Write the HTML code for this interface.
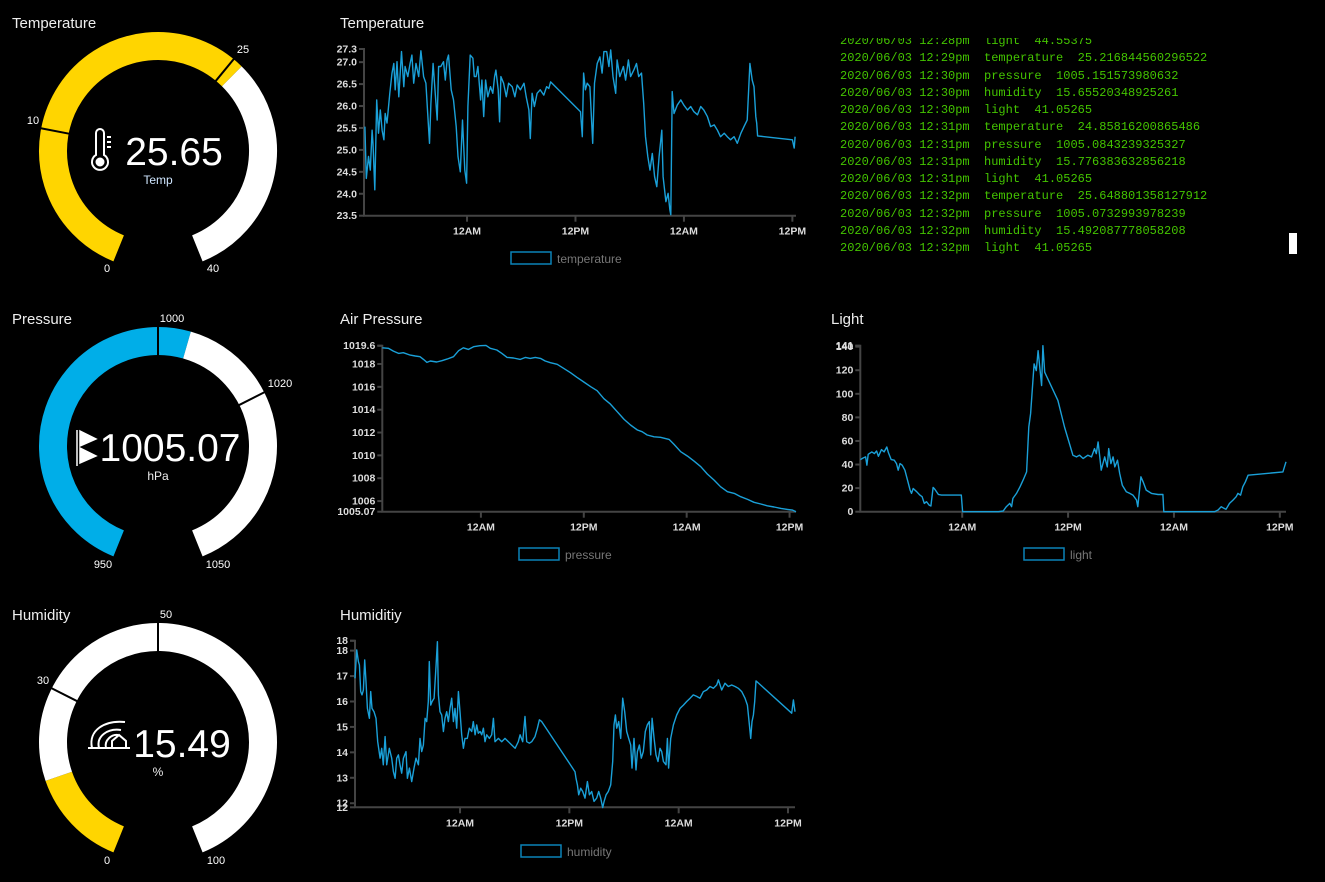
<!DOCTYPE html>
<html><head><meta charset="utf-8"><style>
html,body{margin:0;padding:0;background:#000;width:1325px;height:882px;overflow:hidden;font-family:"Liberation Sans",sans-serif;}
svg{position:absolute;left:0;top:0}
.t{fill:#eee;font-size:15px}
.ax{fill:#ddd;font-size:10.5px;font-weight:bold}
.gl{fill:#fff;font-size:11px}
#log{position:absolute;left:840px;top:38px;width:420px;height:222px;overflow:hidden;font-family:"Liberation Mono",monospace;font-size:12px;line-height:17.25px;color:#44c400;white-space:pre}
#log div{height:17.25px}
</style></head><body>
<div id="log"><div style="margin-top:-5px">2020/06/03 12:28pm  light  44.55375</div><div>2020/06/03 12:29pm  temperature  25.216844560296522</div><div>2020/06/03 12:30pm  pressure  1005.151573980632</div><div>2020/06/03 12:30pm  humidity  15.65520348925261</div><div>2020/06/03 12:30pm  light  41.05265</div><div>2020/06/03 12:31pm  temperature  24.85816200865486</div><div>2020/06/03 12:31pm  pressure  1005.0843239325327</div><div>2020/06/03 12:31pm  humidity  15.776383632856218</div><div>2020/06/03 12:31pm  light  41.05265</div><div>2020/06/03 12:32pm  temperature  25.648801358127912</div><div>2020/06/03 12:32pm  pressure  1005.0732993978239</div><div>2020/06/03 12:32pm  humidity  15.492087778058208</div><div>2020/06/03 12:32pm  light  41.05265</div></div>
<div style="position:absolute;left:1289px;top:233px;width:8px;height:21px;background:#fff"></div>
<svg id="s" width="1325" height="882" xmlns="http://www.w3.org/2000/svg">
<text class="t" x="12" y="28">Temperature</text>
<text class="t" x="12" y="324">Pressure</text>
<text class="t" x="12" y="620">Humidity</text>
<text class="t" x="340" y="28">Temperature</text>
<text class="t" x="340" y="324">Air Pressure</text>
<text class="t" x="831" y="324">Light</text>
<text class="t" x="340" y="620">Humiditiy</text>
<g fill="none" stroke="#fff" stroke-width="2">
<path d="M96 133 a4 4 0 0 1 8 0 v22 a8 8 0 1 1 -8 0 z"/><circle cx="100" cy="162" r="3.5" fill="#fff"/>
<line x1="107" y1="137" x2="111" y2="137"/><line x1="107" y1="142" x2="111" y2="142"/><line x1="107" y1="147" x2="111" y2="147"/></g>
<g fill="#fff" stroke="#fff" stroke-width="1.5">
<line x1="77" y1="430" x2="77" y2="466"/><path d="M80 431 L96 439 L80 446 Z"/><path d="M80 448 L96 456 L80 463 Z"/></g>
<g fill="none" stroke="#fff" stroke-width="2">
<path d="M88 748 h42"/><path d="M92 748 C88 730 105 720 125 722"/><path d="M99 748 C96 736 108 728 121 730"/><path d="M106 748 C104 740 112 734 118 735"/><path d="M112 748 v-7 l7 -6 l7 6 v7"/></g>
<text x="174" y="165" fill="#fff" font-size="39" text-anchor="middle">25.65</text>
<text x="158" y="184" fill="#cfe6ff" font-size="12" text-anchor="middle">Temp</text>
<text x="170" y="461" fill="#fff" font-size="39" text-anchor="middle">1005.07</text>
<text x="158" y="480" fill="#eee" font-size="12" text-anchor="middle">hPa</text>
<text x="182" y="757" fill="#fff" font-size="39" text-anchor="middle">15.49</text>
<text x="158" y="776" fill="#eee" font-size="12" text-anchor="middle">%</text>
</svg>
<script>
const tempT=[-11.3,-11.15,-10.9,-10.7,-10.5,-10.4,-10.2,-10.0,-9.8,-9.6,-9.4,-9.2,-9.05,-8.85,-8.55,-8.3,-8.1,-7.95,-7.75,-7.55,-7.25,-7.0,-6.85,-6.55,-6.3,-6.1,-5.9,-5.65,-5.35,-5.1,-4.8,-4.55,-4.35,-4.15,-4.0,-3.75,-3.6,-3.3,-3.15,-2.9,-2.6,-2.4,-2.2,-2.05,-1.75,-1.5,-1.2,-1.0,-0.75,-0.5,-0.25,-0.05,0.1,0.35,0.65,0.8,1.0,1.2,1.5,1.65,1.85,2.05,2.3,2.6,2.85,3.05,3.2,3.45,3.6,3.75,4.05,4.35,4.6,5.0,5.3,5.55,5.9,6.3,6.55,6.85,7.0,7.2,7.45,7.75,8.1,8.5,8.8,9.05,9.25,12.55,12.75,12.9,13.1,13.3,13.6,13.9,14.1,14.4,14.7,14.95,15.15,15.45,15.7,15.9,16.15,16.45,16.6,16.9,17.3,17.55,17.85,18.1,18.45,18.75,19.0,19.3,19.55,19.75,20.0,20.25,20.5,20.75,21.0,21.25,21.55,21.7,22.0,22.25,22.45,22.55,22.7,22.9,23.25,23.65,24.0,24.4,24.75,25.1,25.5,25.85,26.2,26.6,26.95,27.35,27.7,28.05,28.45,28.8,29.15,29.55,29.9,30.3,30.65,31.0,31.3,31.55,31.75,31.95,32.05,32.15,36.0,36.2,36.3];
const tempV=[25.53,24.35,24.85,24.54,25.45,25.15,24.09,26.14,25.38,25.91,25.45,25.23,25.83,25.61,26.29,26.75,26.97,26.37,27.01,26.21,27.24,26.44,26.9,26.67,26.97,27.16,26.52,26.97,26.67,27.26,26.67,26.52,25.83,25.15,26.06,26.97,26.52,25.68,26.9,26.9,27.01,26.59,27.05,27.16,26.37,26.14,25.53,24.85,24.5,25.68,24.54,24.24,25.99,27.16,27.09,26.67,26.67,26.9,26.14,26.59,25.76,26.59,26.21,26.44,26.29,26.67,26.82,26.37,25.64,26.67,26.52,26.21,26.52,26.44,26.21,26.48,26.37,26.52,26.21,25.91,25.26,26.29,25.99,26.29,26.37,26.25,26.44,26.4,26.55,25.87,25.3,26.75,26.37,26.52,26.44,25.15,26.52,26.97,27.12,26.75,27.24,27.24,26.9,27.28,26.67,26.29,27.05,26.67,26.9,26.59,27.05,26.67,26.82,26.97,26.67,26.75,26.06,25.3,24.85,24.54,24.92,24.39,24.16,24.85,25.45,24.39,23.82,24.01,23.63,23.52,26.33,25.83,26.02,26.14,26.02,25.91,25.99,25.87,25.8,25.99,25.91,25.76,25.53,25.57,25.45,25.3,25.38,25.3,25.23,25.3,25.15,25.38,25.53,25.68,26.97,26.59,26.44,25.76,25.61,25.32,25.23,25.04,25.3];
const tempTicks=[23.5,24.0,24.5,25.0,25.5,26.0,26.5,27.0];
const tempTickLabels=["23.5","24.0","24.5","25.0","25.5","26.0","26.5","27.0"];
const presT=[-11.5,-10.8,-10.2,-9.6,-9.05,-8.25,-7.65,-7.1,-6.7,-6.3,-5.9,-5.15,-4.55,-3.95,-3.2,-2.6,-2.05,-1.45,-0.85,-0.1,0.6,1.1,1.85,2.45,3.05,3.8,4.6,5.2,5.75,6.35,6.95,7.5,8.1,8.9,9.65,10.45,11.2,12.0,12.8,13.55,14.35,15.1,15.9,16.7,17.45,18.25,18.8,19.4,20.2,20.95,21.95,22.5,23.3,24.1,24.85,25.65,26.4,27.2,27.95,28.75,29.55,30.3,31.1,31.85,32.65,33.4,34.2,35.0,35.75,36.35,36.75];
const presV=[1019.42,1019.37,1019.13,1018.93,1018.99,1018.78,1018.7,1018.64,1018.4,1018.14,1018.26,1018.17,1018.29,1018.43,1018.64,1019.16,1019.42,1019.28,1019.51,1019.6,1019.63,1019.37,1019.22,1018.93,1018.58,1018.52,1018.4,1018.58,1018.49,1018.58,1018.49,1018.26,1018.11,1017.97,1017.62,1017.24,1016.83,1016.42,1016.01,1015.66,1014.96,1014.49,1013.82,1013.15,1012.66,1012.22,1012.07,1011.78,1011.63,1011.58,1011.4,1010.99,1010.32,1009.94,1009.5,1009.01,1008.37,1007.84,1007.26,1006.82,1006.67,1006.38,1006.15,1005.89,1005.74,1005.59,1005.48,1005.36,1005.27,1005.21,1005.07];
const presTicks=[1006,1008,1010,1012,1014,1016,1018];
const presTickLabels=["1006","1008","1010","1012","1014","1016","1018"];
const lightT=[-11.55,-11.2,-10.95,-10.8,-10.65,-10.25,-9.95,-9.7,-9.5,-9.15,-8.85,-8.55,-8.35,-8.05,-7.7,-7.45,-7.25,-7.05,-6.8,-6.5,-6.2,-5.9,-5.75,-5.55,-5.15,-4.8,-4.55,-4.3,-4.05,-3.75,-3.55,-3.3,-3.1,-2.7,-2.35,-1.2,-0.1,0.05,1.45,4.1,4.65,5.0,5.4,5.6,5.75,6.15,6.55,6.9,7.3,7.55,7.75,8.15,8.4,8.6,8.8,9.0,9.15,9.35,10.85,11.6,12.55,12.95,13.3,13.7,14.25,14.65,15.0,15.2,15.4,15.6,15.75,16.15,16.45,16.6,16.85,17.1,17.3,17.6,17.85,18.15,18.6,19.0,19.35,19.75,19.9,20.25,20.5,20.85,21.45,22.2,22.75,22.85,25.95,28.6,29.0,29.35,29.55,29.9,30.3,30.7,31.05,31.25,31.55,31.8,32.1,32.4,36.35,36.7];
const lightV=[44.2,45.6,46.5,39.4,48.7,50.7,49.3,51.5,47,52.7,50.7,54.9,49.9,44.2,43.7,40.8,35.2,40.8,39.4,35.2,26.8,18.3,15.5,19.7,16.9,14.1,12.7,7,8.5,5.6,4.8,20.6,18.9,14.6,14.1,14.1,14.1,0,0,0,0.6,4.2,7,4.2,11.3,15.5,21.1,26.8,33.8,71.8,83.1,125.4,119.7,136.6,122.5,107,140.8,118.3,94.4,71.8,47.9,46.5,47.9,45.1,47.9,46.5,53.5,49.3,59.2,46.5,35.2,46.5,38,53.5,40.8,46.5,38,43.7,32.4,22.5,16.9,15.5,14.1,9.9,4.2,29.6,25.4,18.3,15.5,14.6,14.6,0,0,0,1.4,4.2,3.4,2,7,9.9,12.7,15.5,14.1,21.1,25.4,31,33.8,42.3];
const lightTicks=[0,20,40,60,80,100,120,140];
const lightTickLabels=["0","20","40","60","80","100","120","140"];
const humT=[-11.53,-11.34,-11.16,-11.05,-10.9,-10.76,-10.61,-10.46,-10.32,-10.17,-9.95,-9.81,-9.66,-9.44,-9.22,-9.04,-8.78,-8.6,-8.42,-8.23,-8.05,-7.76,-7.5,-7.32,-7.13,-6.95,-6.77,-6.59,-6.4,-6.22,-5.93,-5.78,-5.56,-5.31,-5.05,-4.83,-4.57,-4.39,-4.21,-4.02,-3.84,-3.66,-3.48,-3.37,-3.22,-3.07,-2.85,-2.63,-2.49,-2.38,-2.2,-2.01,-1.83,-1.65,-1.46,-1.28,-1.1,-0.91,-0.73,-0.55,-0.37,-0.18,0,0.18,0.37,0.55,0.8,1.02,1.28,1.46,1.65,1.83,2.01,2.2,2.38,2.56,2.74,2.93,3.22,3.48,3.66,3.84,4.21,4.57,4.94,5.31,5.67,6.04,6.22,6.4,6.59,6.88,7.13,7.32,7.61,7.87,8.23,8.49,8.71,8.96,12.62,12.73,12.88,13.03,13.25,13.47,13.72,13.98,14.2,14.45,14.71,15.0,15.22,15.44,15.66,15.81,16.03,16.28,16.54,16.76,16.9,17.05,17.2,17.42,17.64,17.86,18.08,18.29,18.51,18.73,18.88,19.1,19.32,19.47,19.69,19.9,20.12,20.34,20.56,20.78,20.93,21.08,21.3,21.51,21.73,21.95,22.14,22.32,22.61,22.76,22.9,23.12,23.42,23.78,24.15,24.52,24.88,25.25,25.61,25.98,26.34,26.71,27.08,27.44,27.81,28.17,28.36,28.72,29.09,29.45,29.82,30.19,30.55,30.92,31.28,31.54,31.76,31.91,32.05,32.2,32.35,32.49,36.41,36.59,36.77];
const humV=[16.91,18.03,17.57,17.44,16.39,16.26,16.45,17.63,16.78,15.73,15.34,16.39,15.73,15.6,15.34,14.42,13.77,14.16,13.51,14.62,13.51,14.16,13.77,13.24,12.98,13.77,13.9,13.51,13.18,13.77,14.03,12.98,13.38,12.85,13.38,13.77,13.51,14.55,14.03,14.29,15.34,15.21,16.0,17.57,15.86,16.0,16.13,17.44,18.35,16.26,15.6,15.47,14.82,15.34,15.6,15.21,15.73,16.13,15.21,15.73,14.95,16.39,15.6,14.69,14.16,14.55,14.55,14.95,14.82,15.21,14.69,15.08,14.75,14.82,14.69,14.95,14.42,14.69,14.55,14.69,15.34,14.42,14.55,14.42,14.55,14.42,14.29,14.16,14.29,14.42,14.69,14.42,15.41,14.42,14.36,14.42,14.62,14.95,15.28,15.21,13.24,12.98,12.72,12.33,12.59,12.46,12.2,12.85,12.33,12.46,12.07,12.2,12.46,12.2,11.83,12.07,12.33,12.46,12.72,13.64,15.08,15.47,14.95,15.21,14.55,16.13,15.6,14.82,14.55,14.29,13.38,14.55,13.31,14.03,14.29,13.77,14.03,14.82,15.08,15.21,13.9,15.34,14.55,13.9,13.64,14.16,14.03,13.64,13.51,14.55,13.38,14.55,15.08,15.47,15.73,15.86,16.0,16.13,16.26,16.2,16.13,16.39,16.45,16.59,16.52,16.65,16.85,16.45,16.72,16.59,16.65,16.59,16.52,16.39,16.13,15.86,15.08,14.55,15.21,15.47,16.0,16.81,15.54,16.06,15.6];
const humTicks=[12,13,14,15,16,17,18];
const humTickLabels=["12","13","14","15","16","17","18"];
const xTicks=[0,12,24,36];
const xTickLabels=["12AM","12PM","12AM","12PM"];

const NS="http://www.w3.org/2000/svg";
const svg=document.getElementById('s');
function mk(tag,attrs,parent){const e=document.createElementNS(NS,tag);for(const k in attrs)e.setAttribute(k,attrs[k]);(parent||svg).appendChild(e);return e;}

function chart(name,T,V,yTicks,yLabels,extra,box,tdom,vdom,legend){
  const g=mk('g',{});
  
  
  const sx=t=>box.x0+(t-tdom[0])/(tdom[1]-tdom[0])*(box.x1-box.x0);
  const sy=v=>box.yb-(v-vdom[0])/(vdom[1]-vdom[0])*(box.yb-box.yt);
  const ax=mk('path',{d:`M${box.x0-5} ${box.yt}H${box.x0}V${box.yb}H${box.x1}`,stroke:'#444',fill:'none','stroke-width':2},g);
  
  
  const allT=yTicks.map((v,i)=>[v,yLabels[i]]).concat(extra);
  allT.forEach(([v,l])=>{
    mk('line',{x1:box.x0-5,x2:box.x0,y1:sy(v),y2:sy(v),stroke:'#444','stroke-width':2},g);
    const tx=mk('text',{x:box.x0-7,y:sy(v)+3.5,'text-anchor':'end',class:'ax'},g);
    tx.textContent=l;
    
    
  });
  xTicks.forEach((t,i)=>{
    mk('line',{x1:sx(t),x2:sx(t),y1:box.yb,y2:box.yb+6,stroke:'#444','stroke-width':2},g);
    const tx=mk('text',{x:sx(t),y:box.yb+19,'text-anchor':'middle',class:'ax'},g);
    tx.textContent=xTickLabels[i];
    
    
  });
  const d=T.map((t,i)=>(i?'L':'M')+sx(t).toFixed(1)+' '+sy(V[i]).toFixed(1)).join('');
  const p=mk('path',{d:d,stroke:'#1aa0d8',fill:'none','stroke-width':1.4,'stroke-linejoin':'round'},g);
  
  
  const lg=mk('g',{},g);
  
  
  mk('rect',{x:legend[0],y:legend[1],width:40,height:12,fill:'none',stroke:'#0b82b8','stroke-width':1.5},lg);
  const lt=mk('text',{x:legend[0]+46,y:legend[1]+11,fill:'#777','font-size':12},lg);
  lt.textContent=name;
}
chart('temperature',tempT,tempV,tempTicks,tempTickLabels,[[27.3,'27.3']],{x0:364,x1:796,yt:49,yb:215.7},[-11.4,36.4],[23.5,27.3],[511,252]);
chart('pressure',presT,presV,presTicks,presTickLabels,[[1019.6,'1019.6'],[1005.07,'1005.07']],{x0:382.3,x1:796,yt:345.7,yb:511.7},[-11.5,36.75],[1005.07,1019.6],[519,548]);
chart('light',lightT,lightV,lightTicks,lightTickLabels,[[140.8,'141']],{x0:860.3,x1:1286,yt:345.7,yb:511.7},[-11.55,36.7],[0,140.8],[1024,548]);
chart('humidity',humT,humV,humTicks,humTickLabels,[[11.84,'12'],[18.39,'18']],{x0:355,x1:795,yt:640.7,yb:807.3},[-11.53,36.77],[11.84,18.39],[521,845]);

function pt(cx,cy,r,a){const rad=a*Math.PI/180;return[cx+r*Math.sin(rad),cy-r*Math.cos(rad)];}
function arc(cx,cy,r,a0,a1){const p0=pt(cx,cy,r,a0),p1=pt(cx,cy,r,a1);const large=(a1-a0)>180?1:0;return `M${p0[0]} ${p0[1]}A${r} ${r} 0 ${large} 1 ${p1[0]} ${p1[1]}`;}
function gauge(name,cy,min,max,val,color,ticks,labels){
  const cx=158,g=mk('g',{});
  
  
  const ang=v=>-158+(v-min)/(max-min)*316;
  const f=mk('path',{d:arc(cx,cy,105,ang(min),ang(val)),stroke:color,'stroke-width':28,fill:'none'},g);
  
  
  const r=mk('path',{d:arc(cx,cy,105,ang(val),ang(max)),stroke:'#fff','stroke-width':28,fill:'none'},g);
  
  
  ticks.forEach(v=>{const a=pt(cx,cy,90,ang(v)),b=pt(cx,cy,120,ang(v));
    const l=mk('line',{x1:a[0],y1:a[1],x2:b[0],y2:b[1],stroke:'#000','stroke-width':2},g);
    
    });
  labels.forEach(([t,x,y])=>{const e=mk('text',{x:x,y:y,class:'gl','text-anchor':'middle'},g);e.textContent=t;
    
    });
}
gauge('temperature',151,0,40,25.65,'#ffd500',[10,25],[['0',107,272],['40',213,272],['10',33,124],['25',243,53]]);
gauge('pressure',446,950,1050,1005.07,'#00aee8',[1000,1020],[['950',103,568],['1050',218,568],['1000',172,322],['1020',280,387]]);
gauge('humidity',742,0,100,15.49,'#ffd500',[30,50],[['0',107,864],['100',216,864],['30',43,684],['50',166,618]]);
</script>
</body></html>
